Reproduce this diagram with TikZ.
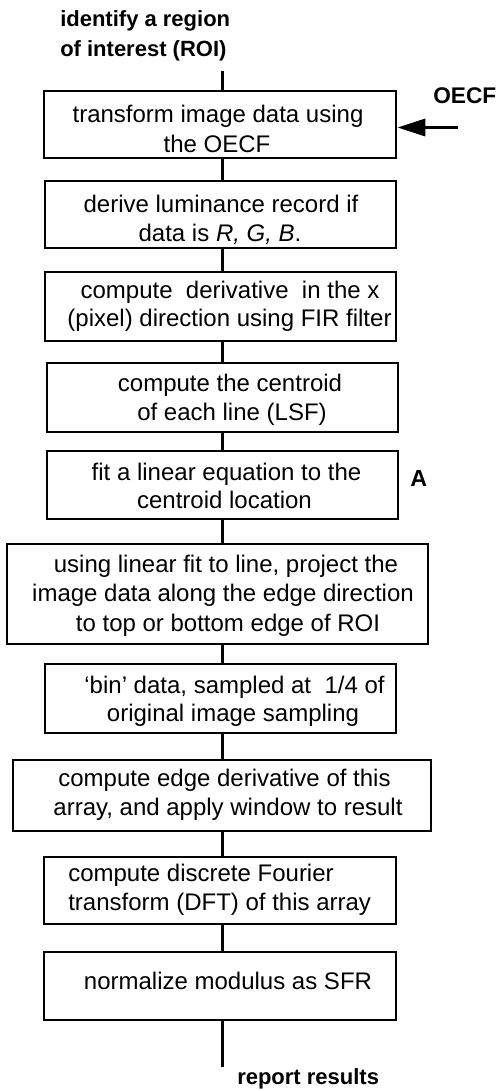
\documentclass[tikz,border=0pt]{standalone}
\usepackage{fontspec}
\setmainfont{Liberation Sans}
\usetikzlibrary{arrows.meta}
\begin{document}
\begin{tikzpicture}[x=0.75pt,y=-0.75pt,
  box/.style={draw,line width=2.1pt,rectangle,inner sep=0pt},
  txt/.style={anchor=base,inner sep=0pt,font=\fontsize{18pt}{22pt}\selectfont},
  txtl/.style={anchor=base west,inner sep=0pt,font=\fontsize{18pt}{22pt}\selectfont},
  lbl/.style={inner sep=0pt,font=\fontsize{16.5pt}{20pt}\selectfont\bfseries},
  conn/.style={line width=2.1pt}]
\useasboundingbox (0,0) rectangle (498,1090);
% boxes
\node[box,minimum width={352*0.75pt},minimum height={67*0.75pt}] (b1) at (220,124.5) {};
\node[box,minimum width={351*0.75pt},minimum height={67*0.75pt}] (b2) at (220.5,214.5) {};
\node[box,minimum width={351*0.75pt},minimum height={69*0.75pt}] (b3) at (220.5,306.5) {};
\node[box,minimum width={351*0.75pt},minimum height={69*0.75pt}] (b4) at (222.5,397.5) {};
\node[box,minimum width={351*0.75pt},minimum height={68*0.75pt}] (b5) at (222.5,485) {};
\node[box,minimum width={421*0.75pt},minimum height={100*0.75pt}] (b6) at (217.5,594) {};
\node[box,minimum width={351*0.75pt},minimum height={69*0.75pt}] (b7) at (220.5,698.5) {};
\node[box,minimum width={418*0.75pt},minimum height={71*0.75pt}] (b8) at (222,795.5) {};
\node[box,minimum width={352*0.75pt},minimum height={67*0.75pt}] (b9) at (220,890.5) {};
\node[box,minimum width={352*0.75pt},minimum height={68*0.75pt}] (b10) at (220,986) {};
% texts
\node[txt] (t1a) at (218,122) {transform image data using};
\node[txt] (t1b) at (217,152) {the OECF};
\node[txt] (t2a) at (221,212.5) {derive luminance record if};
\node[txt] (t2b) at (220,241.5) {data is \textit{R, G, B}.};
\node[txt] (t3a) at (230,298) {compute\ \ derivative\ \ in the x};
\node[txt] (t3b) at (229.5,326.5) {(pixel) direction using FIR filter};
\node[txt] (t4a) at (230,391.5) {compute the centroid};
\node[txt] (t4b) at (232,420) {of each line (LSF)};
\node[txt] (t5a) at (226.5,480) {fit a linear equation to the};
\node[txt] (t5b) at (224.5,508) {centroid location};
\node[txt] (t6a) at (226,572) {using linear fit to line, project the};
\node[txt] (t6b) at (223,601.5) {image data along the edge direction};
\node[txt] (t6c) at (228,631.5) {to top or bottom edge of ROI};
\node[txt] (t7a) at (234.5,693) {‘bin’ data, sampled at\ \ 1/4 of};
\node[txt] (t7b) at (233,721.5) {original image sampling};
\node[txt] (t8a) at (224.5,786) {compute edge derivative of this};
\node[txt] (t8b) at (228,815) {array, and apply window to result};
\node[txtl] (t9a) at (68,881) {compute discrete Fourier};
\node[txtl] (t9b) at (68,910) {transform (DFT) of this array};
\node[txt] (t10) at (228,989) {normalize modulus as SFR};
% labels
\node[lbl,anchor=base west] (roi1) at (60,26) {identify a region};
\node[lbl,anchor=base west] (roi2) at (60,56) {of interest (ROI)};
\node[lbl,anchor=base west] (rep) at (237,1084) {report results};
\node[lbl,anchor=base west,font=\fontsize{17pt}{20pt}\selectfont\bfseries] (oecf) at (433,103) {OECF};
\node[lbl,anchor=base west,font=\fontsize{17.5pt}{20pt}\selectfont\bfseries] (A) at (410,486) {A};
% connectors
\coordinate (sp) at (222.5,0);
\coordinate (top) at (222.5,71);
\coordinate (bot) at (222.5,1067);
\coordinate (oin) at (458,127.5);
\draw[conn] (top) -- (b1.north -| top);
\draw[conn] (b1.south -| sp) -- (b2.north -| sp);
\draw[conn] (b2.south -| sp) -- (b3.north -| sp);
\draw[conn] (b3.south -| sp) -- (b4.north -| sp);
\draw[conn] (b4.south -| sp) -- (b5.north -| sp);
\draw[conn] (b5.south -| sp) -- (b6.north -| sp);
\draw[conn] (b6.south -| sp) -- (b7.north -| sp);
\draw[conn] (b7.south -| sp) -- (b8.north -| sp);
\draw[conn] (b8.south -| sp) -- (b9.north -| sp);
\draw[conn] (b9.south -| sp) -- (b10.north -| sp);
\draw[conn] (b10.south -| sp) -- (bot);
\draw[line width=2.7pt,-{Triangle[length={28*0.75pt},width={17*0.75pt}]}] (oin) -- (b1.east |- oin);
\end{tikzpicture}
\end{document}
